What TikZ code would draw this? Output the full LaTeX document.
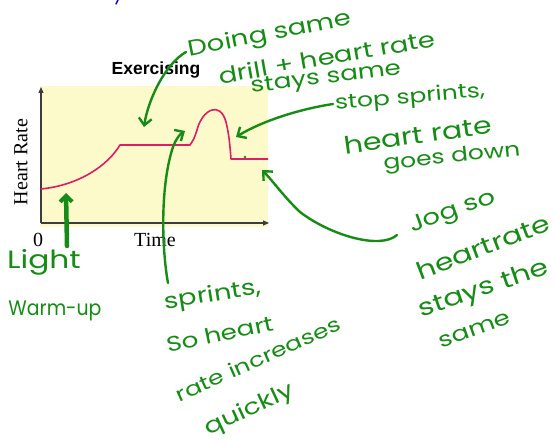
\documentclass[tikz,border=0pt]{standalone}
\usepackage{fontspec}
\setmainfont{Liberation Serif}
\newfontfamily\hand[FakeStretch=1.25]{Poppins}
\newfontfamily\handnarrow[FakeStretch=0.9]{Poppins}
\newfontfamily\chartsans{Liberation Sans}
\usetikzlibrary{arrows.meta}
\definecolor{hgreen}{RGB}{22,140,22}
\definecolor{chartbg}{RGB}{252,249,202}
\definecolor{curvepink}{RGB}{222,30,100}
\definecolor{axisgray}{RGB}{60,60,60}
\tikzset{
  hw/.style={font=\hand\fontsize{#1}{#1}\selectfont, text=hgreen, inner sep=0pt},
  hw/.default=22,
  hwnarrow/.style={font=\handnarrow\fontsize{#1}{#1}\selectfont, text=hgreen, inner sep=0pt},
  hwnarrow/.default=22,
  harrow/.style={draw=hgreen, line width=2.4pt, line cap=round, line join=round,
    -{Straight Barb[length=7pt,width=13pt,line width=2.4pt]}},
  axisline/.style={draw=axisgray, line width=1.1pt, -{Triangle[length=6pt,width=5pt]}},
}
\begin{document}
\begin{tikzpicture}[x=1pt,y=-1pt]
\useasboundingbox (0,0) rectangle (554,446);
\fill[white] (0,0) rectangle (554,446);
% chart
\fill[chartbg] (40,86) rectangle (268,227);
\coordinate (origin) at (41,223);
\coordinate (ytop) at (41,87);
\coordinate (xend) at (269,223);
\draw[axisline] (origin) -- (ytop);
\draw[axisline] (origin) -- (xend);
\node[font=\chartsans\bfseries\fontsize{17.5}{17.5}\selectfont] (title) at (156,70) {Exercising};
\node[font=\fontsize{20}{20}\selectfont, rotate=90] (ylab) at (21,162) {Heart Rate};
\node[font=\fontsize{20}{20}\selectfont] (zero) at (38,240) {0};
\node[font=\fontsize{20}{20}\selectfont] (xlab) at (155,240) {Time};
\draw[curvepink, line width=1.6pt, line join=round]
  (41,189) .. controls (80,185) and (108,165) .. (120,145) -- (190,145)
  .. controls (194,139) .. (197,130)
  .. controls (202,110) and (220,100) .. (226,122)
  .. controls (229,134) and (230,146) .. (231,159) -- (268,159);
\fill[hgreen] (245,157) circle (1.4);
% blue mark
\draw[blue, line width=1.5pt, line cap=round] (118,0) -- (116,4);
% handwriting
\node[hw=22, rotate=11] (t1) at (270,35) {Doing same};
\node[hw=22, rotate=10] (t2) at (327,57) {drill + heart rate};
\node[hw=21, rotate=7] (t3) at (326,79) {stays same};
\node[hw=20, rotate=5] (s1) at (410,98) {stop sprints,};
\node[hw=24, rotate=8] (s2) at (418,135) {heart rate};
\node[hw=20, rotate=6] (s3) at (452,158) {goes down};
\node[hw=22, rotate=20] (j1) at (453,213) {Jog so};
\node[hw=24, rotate=21] (j2) at (483,247) {heartrate};
\node[hw=24, rotate=19] (j3) at (484,290) {stays the};
\node[hw=21, rotate=20] (j4) at (475,330) {same};
\node[hw=25] (l1) at (44,262) {Light};
\node[hwnarrow=21] (l2) at (55,311) {Warm-up};
\node[hw=22, rotate=9] (p1) at (213,296) {sprints,};
\node[hw=21, rotate=12] (p2) at (220,334) {So heart};
\node[hw=20, rotate=24] (p3) at (258,359) {rate increases};
\node[hw=22, rotate=25] (p4) at (250,410) {quickly};
% arrows
\coordinate (aDs) at (186,52);
\coordinate (aDe) at (144,127);
\draw[harrow] (aDs) .. controls (165,64) and (148,100) .. (aDe);
\coordinate (aSs) at (333,104);
\coordinate (aSe) at (236,137);
\draw[harrow] (aSs) .. controls (300,109) and (262,121) .. (aSe);
\coordinate (aJs) at (397,235);
\coordinate (aJe) at (262,170);
\draw[harrow] (aJs) .. controls (380,250) and (330,235) .. (300,212)
  .. controls (285,198) and (272,180) .. (aJe);
\coordinate (aLs) at (67,246);
\coordinate (aLe) at (66,193);
\draw[harrow, line width=4.5pt, -{Straight Barb[length=6pt,width=12pt,line width=4pt]}] (aLs) -- (aLe);
\coordinate (aPs) at (168,283);
\coordinate (aPe) at (185,131);
\draw[harrow] (aPs) .. controls (162,250) and (160,190) .. (172,150)
  .. controls (175,140) and (180,134) .. (aPe);
\end{tikzpicture}
\end{document}
